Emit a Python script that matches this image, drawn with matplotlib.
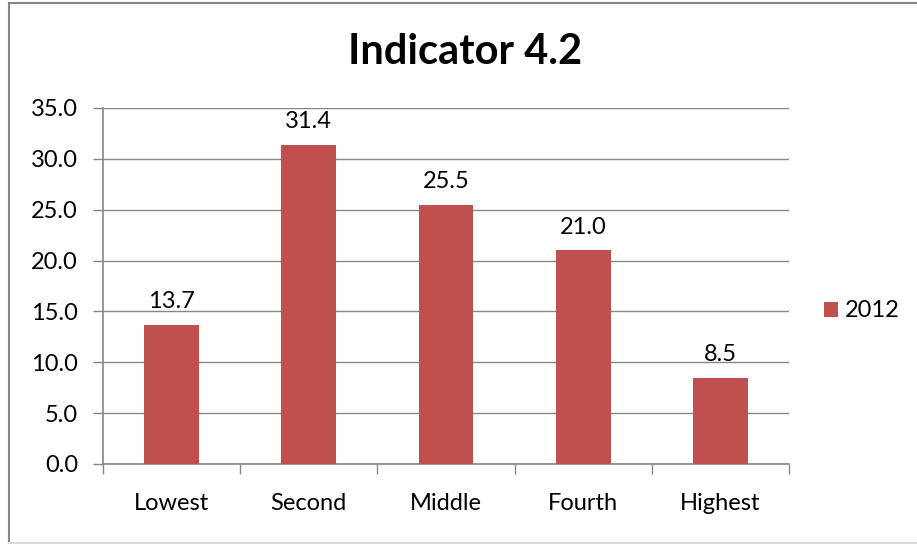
import matplotlib
matplotlib.use("Agg")
import matplotlib.pyplot as plt
from matplotlib.lines import Line2D

categories = ["Lowest", "Second", "Middle", "Fourth", "Highest"]
values_2012 = [13.7, 31.4, 25.5, 21.0, 8.5]
series_name = "2012"
title = "Indicator 4.2"
yticks = [0, 5, 10, 15, 20, 25, 30, 35]

plt.rcParams['font.family'] = ['Lato', 'DejaVu Sans']
bar_color = "#C0504D"
grey = "#868686"
fs = 17

fig = plt.figure(figsize=(9.17, 5.44), dpi=100)
ax = fig.add_axes([103/917, 1-464/544, (789-103)/917, (464-108)/544])

x = list(range(len(categories)))
bars = ax.bar(x, values_2012, width=0.4, color=bar_color, label=series_name, zorder=3)
for xi, v in zip(x, values_2012):
    ax.text(xi, v + 1.6, f"{v:.1f}", ha="center", va="baseline", fontsize=fs, color="black")

ax.set_xlim(-0.5, len(categories) - 0.5)
ax.set_ylim(0, 35)
ax.set_yticks(yticks)
ax.set_yticklabels([f"{t:.1f}" for t in yticks], fontsize=fs)
ax.yaxis.grid(True, color=grey, linewidth=1, zorder=0)
ax.set_axisbelow(True)

ax.set_xticks([i - 0.5 for i in range(len(categories) + 1)], minor=False)
ax.set_xticklabels([])
ax.set_xticks(x, minor=True)
ax.set_xticklabels(categories, minor=True, fontsize=fs)
ax.tick_params(axis="x", which="minor", length=0, pad=21)
ax.tick_params(axis="x", which="major", length=7, color=grey, width=1)
ax.tick_params(axis="y", length=7, color=grey, width=1, pad=11)

for s in ["top", "right"]:
    ax.spines[s].set_visible(False)
for s in ["left", "bottom"]:
    ax.spines[s].set_color(grey)
    ax.spines[s].set_linewidth(1.2)

fig.text(465/917, 1-52/544, title, ha="center", va="center", fontsize=30, fontweight="bold")

ax.legend(loc="center left", bbox_to_anchor=(1.02, 0.43), frameon=False, fontsize=fs,
          handlelength=0.6, handleheight=0.6, handletextpad=0.3)

# outer chart frame: left and top in grey, bottom light
fig.lines.append(Line2D([8.5/917, 8.5/917], [0, 1-3/544], transform=fig.transFigure,
                        color=grey, linewidth=1.5))
fig.lines.append(Line2D([8.5/917, 1], [1-3/544, 1-3/544], transform=fig.transFigure,
                        color=grey, linewidth=1.5))
fig.lines.append(Line2D([8.5/917, 1], [1/544, 1/544], transform=fig.transFigure,
                        color="#D9D9D9", linewidth=1.5))

fig.savefig("out.png", dpi=100)
